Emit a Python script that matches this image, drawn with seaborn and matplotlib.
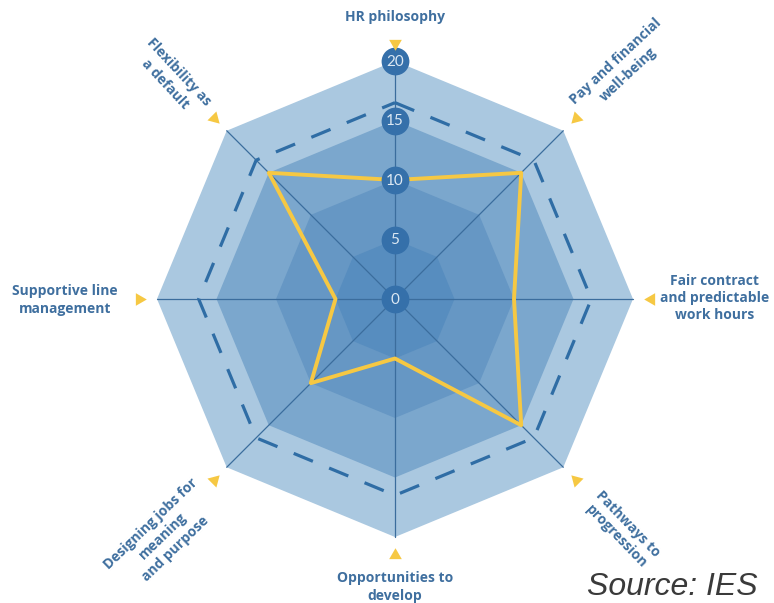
import numpy as np
import pandas as pd
import matplotlib
matplotlib.use("Agg")
import matplotlib.pyplot as plt
import seaborn as sns

# ---------------- data ----------------
categories = ["HR philosophy",
              "Pay and financial\nwell-being",
              "Fair contract\nand predictable\nwork hours",
              "Pathways to\nprogression",
              "Opportunities to\ndevelop",
              "Designing jobs for\nmeaning\nand purpose",
              "Supportive line\nmanagement",
              "Flexibility as\na default"]
scores = [10, 15, 10, 15, 5, 10, 5, 15]
benchmark = 16.5
ring_levels = [20, 15, 10, 5]
tick_values = [0, 5, 10, 15, 20]
source_text = "Source: IES"

# ---------------- style ----------------
ring_colors = ["#aac8e0", "#7ba7cd", "#6697c4", "#578dbf"]
label_color = "#3f6f9f"
yellow = "#f6c843"
dash_color = "#2f6da5"
spoke_color = "#3b6d9d"
tick_bg = "#3570aa"

sns.set_theme(style="white")
plt.rcParams['font.family'] = ['Open Sans', 'DejaVu Sans']

W, H = 774, 603
cx, cy = 395, 299
scale = 238 / 20.0

fig = plt.figure(figsize=(W / 100, H / 100), dpi=100)
ax = fig.add_axes([0, 0, 1, 1])
ax.set_xlim(-cx / scale, (W - cx) / scale)
ax.set_ylim(-(H - cy) / scale, cy / scale)
ax.set_aspect('equal')
ax.axis('off')

n = len(categories)
angles = np.pi / 2 - np.arange(n) * 2 * np.pi / n


def poly(r):
    a = np.append(angles, angles[0])
    return r * np.cos(a), r * np.sin(a)


def px(x, y):
    return (x - cx) / scale, (cy - y) / scale


# rings
for lvl, col in zip(ring_levels, ring_colors):
    x, y = poly(lvl)
    ax.fill(x, y, color=col, lw=0, zorder=1)

# spokes
for a in angles:
    ax.plot([0, 20 * np.cos(a)], [0, 20 * np.sin(a)], color=spoke_color,
            lw=0.9, zorder=2)

# benchmark dashed
bx, by = poly(benchmark)
ax.plot(bx, by, color=dash_color, lw=2.3, ls=(0, (6.5, 5.5)), zorder=3)

# scores line via seaborn
sx, sy = poly(1)
vals = np.append(scores, scores[0])
df = pd.DataFrame({"x": sx * vals, "y": sy * vals, "order": np.arange(n + 1)})
sns.lineplot(data=df, x="x", y="y", sort=False, estimator=None, color=yellow,
             lw=2.8, ax=ax, zorder=4)
ax.set_xlabel("")
ax.set_ylabel("")

# tick badges
for t in tick_values:
    ax.plot(0, t, marker='o', ms=20, color=tick_bg, mec='none', zorder=5)
    ax.text(0, t - 0.05, str(t), ha='center', va='center', fontsize=11,
            color="#dce8f3", zorder=6, family=['Lato', 'DejaVu Sans'])

# triangles
for a in angles:
    r = 21.5
    ax.plot(r * np.cos(a), r * np.sin(a), marker=(3, 0, np.degrees(a) + 90),
            ms=10.5, color=yellow, mec='none', zorder=5)

# labels
label_layout = [((395, 17), 0), ((622, 68), 43), ((715, 298), 0),
                ((622, 530), -46), ((395, 587), 0), ((163, 536), 44),
                ((65, 300), 0), ((172, 78), -47)]
for lab, ((lx, ly), rot) in zip(categories, label_layout):
    x, y = px(lx, ly)
    ax.text(x, y, lab, ha='center', va='center', rotation=rot,
            rotation_mode='anchor', fontsize=10, fontweight='bold',
            color=label_color, linespacing=1.3, zorder=6)

# source
x, y = px(587, 602)
ax.text(x, y, source_text, ha='left', va='bottom', fontsize=23,
        style='italic', color='#3a3a3a', family=['Liberation Sans'])

fig.savefig("out.png", dpi=100)
